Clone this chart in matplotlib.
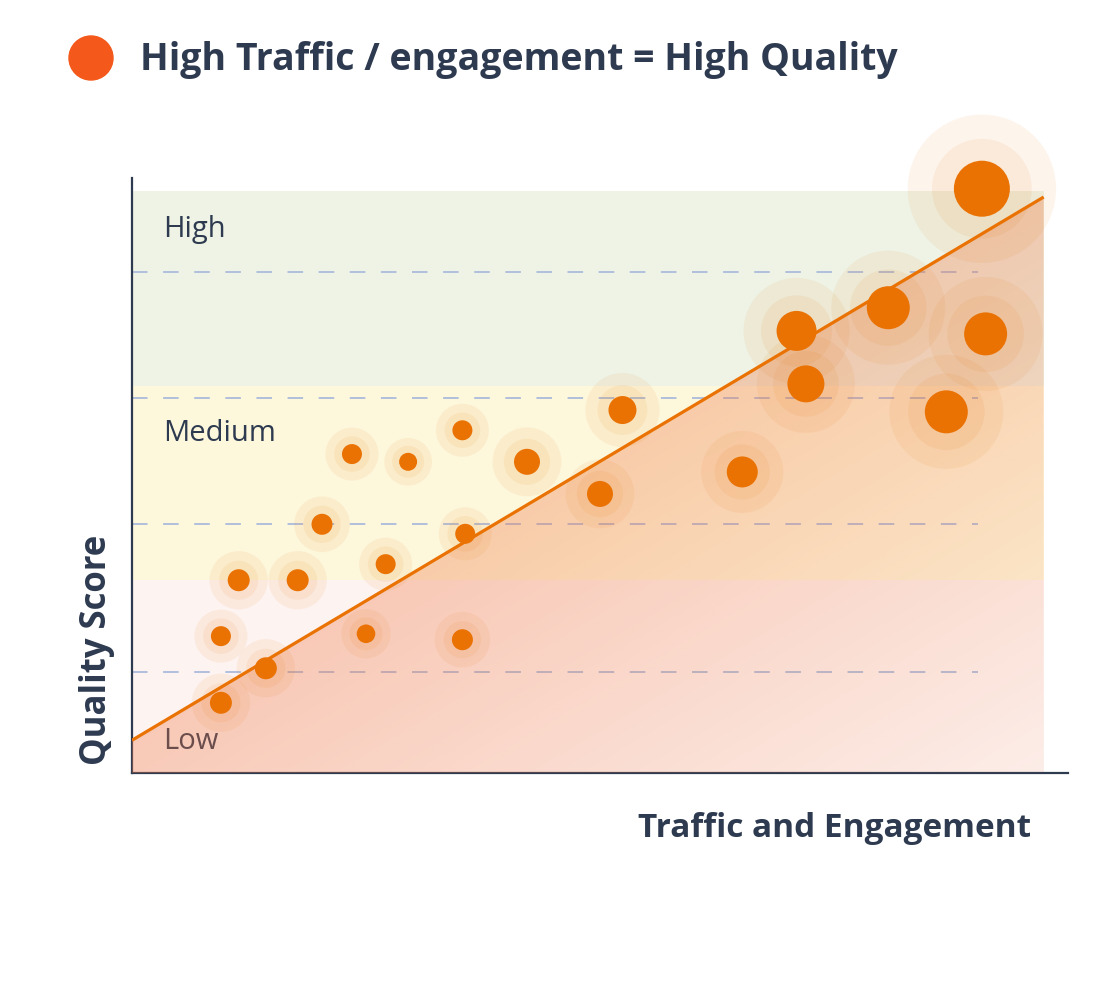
import numpy as np
import matplotlib.pyplot as plt
from matplotlib.patches import Polygon, Ellipse
from matplotlib.colors import to_rgb

# data (0-100 scales)
traffic = [9.5, 14.3, 9.5, 11.4, 17.7, 20.3, 23.5, 29.5, 27.1, 25.0, 35.3, 35.6,
           35.3, 42.2, 50.0, 52.4, 65.2, 71.0, 72.0, 80.8, 91.2, 87.0, 90.8]
quality = [11.8, 17.6, 23.0, 32.4, 32.4, 41.8, 53.6, 52.3, 35.1, 23.4, 57.6, 40.2,
           22.4, 52.3, 46.9, 61.0, 50.6, 74.3, 65.4, 78.2, 73.8, 60.7, 98.2]
reach = [11, 11, 10, 11, 11, 10.5, 10, 9, 10, 9.3, 10, 10,
         10.5, 13, 13, 14, 15.5, 20, 18.5, 21.5, 21.5, 21.5, 28]

band_names = ["Low", "Medium", "High"]
band_edges = [0, 32.4, 65.0, 97.8]
band_right = 97.4
guide_levels = [17.0, 41.8, 63.0, 84.2]
guide_right = 90.4
trend_x = [0, 97.4]
trend_y = [5.5, 96.8]

W, H = 1112, 984
NAVY = "#2D3A4F"
ORANGE = "#EA7203"
band_colors = ["#FDF3F0", "#FDF7DC", "#EEF3E5"]

plt.rcParams['font.family'] = ['Open Sans', 'DejaVu Sans']

fig = plt.figure(figsize=(W / 100, H / 100), dpi=100)
left, right, bottom, top = 132, 1068, 773, 178
ax = fig.add_axes([left / W, 1 - bottom / H, (right - left) / W, (bottom - top) / H])
ax.set_xlim(0, 100)
ax.set_ylim(0, 100)
sx = (right - left) / 100.0   # px per unit
sy = (bottom - top) / 100.0

# quality bands
for i, name in enumerate(band_names):
    ax.fill_between([0, band_right], band_edges[i], band_edges[i + 1],
                    color=band_colors[i], lw=0, zorder=0)

for lvl in guide_levels:
    ax.plot([0, guide_right], [lvl, lvl], color="#B0BFDD", lw=1.4,
            linestyle=(0, (8, 8)), zorder=1)

label_y = [4.0, 55.8, 90.1]
for name, yb in zip(band_names, label_y):
    ax.text(3.3, yb, name, fontsize=21, color=NAVY, va='baseline', ha='left', zorder=2)

# gradient fill under the trend line
n = 500
gx, gy = np.meshgrid(np.linspace(0, 100, n), np.linspace(0, 100, n))
px, py = gx * sx, gy * sy
x0, y0 = trend_x[0] * sx, trend_y[0] * sy
x1, y1 = trend_x[1] * sx, trend_y[1] * sy
ln = np.hypot(x1 - x0, y1 - y0)
dist = np.abs((x1 - x0) * (py - y0) - (y1 - y0) * (px - x0)) / ln
dmax = (y1 - 0) * (x1 - x0) / ln
t = np.clip(dist / dmax, 0, 1)
alpha = 0.29 * (1 - t) + 0.05
rgba = np.zeros((n, n, 4))
rgba[..., :3] = to_rgb("#F07846")
rgba[..., 3] = alpha
img = ax.imshow(rgba, extent=[0, 100, 0, 100], origin='lower', aspect='auto',
                interpolation='bilinear', zorder=3)
clip = Polygon([(trend_x[0], trend_y[0]), (trend_x[1], trend_y[1]),
                (trend_x[1], 0), (trend_x[0], 0)], closed=True,
               transform=ax.transData, facecolor='none', edgecolor='none')
ax.add_patch(clip)
img.set_clip_path(clip)

# bubbles with halos
r = np.array(reach)
core_s = (2 * r * 0.72) ** 2
ax.scatter(traffic, quality, s=core_s * 2.65 ** 2, color=ORANGE, alpha=0.075,
           lw=0, zorder=4, clip_on=False)
ax.scatter(traffic, quality, s=core_s * 1.78 ** 2, color=ORANGE, alpha=0.08,
           lw=0, zorder=4, clip_on=False)
ax.scatter(traffic, quality, s=core_s, color=ORANGE, lw=0, zorder=5, clip_on=False)

ax.plot(trend_x, trend_y, color=ORANGE, lw=2.3, zorder=6, solid_capstyle='butt')

for side in ['top', 'right']:
    ax.spines[side].set_visible(False)
for side in ['left', 'bottom']:
    ax.spines[side].set_color(NAVY)
    ax.spines[side].set_linewidth(1.6)
ax.set_xticks([])
ax.set_yticks([])
ax.patch.set_alpha(0)

# title with bullet
fig.add_artist(Ellipse((91 / W, 1 - 58 / H), 44 / W, 44 / H, color="#F4581A",
                       transform=fig.transFigure))
fig.text(140 / W, 1 - 70 / H, "High Traffic / engagement = High Quality",
         fontsize=27, fontweight='bold', color=NAVY, va='baseline', ha='left')

fig.text(638 / W, 1 - 837 / H, "Traffic and Engagement", fontsize=24,
         fontweight='bold', color=NAVY, va='baseline', ha='left')
fig.text(106 / W, 1 - 650 / H, "Quality Score", fontsize=25, fontweight='bold',
         color=NAVY, rotation=90, rotation_mode='anchor', va='baseline', ha='center')

fig.savefig("out.png", dpi=100, facecolor='white')
